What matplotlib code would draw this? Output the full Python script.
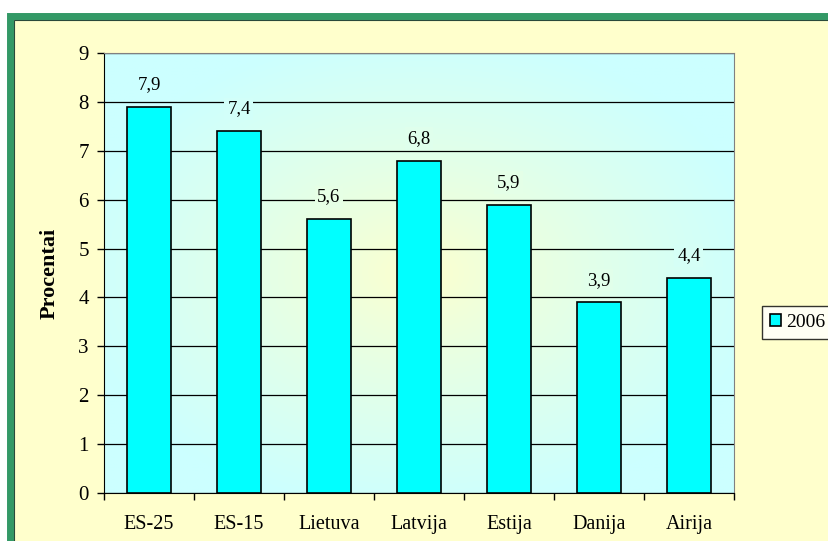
import matplotlib.pyplot as plt
import numpy as np
from matplotlib.patches import Rectangle
from matplotlib.colors import to_rgb

countries = ['ES-25', 'ES-15', 'Lietuva', 'Latvija', 'Estija', 'Danija', 'Airija']
values = [7.9, 7.4, 5.6, 6.8, 5.9, 3.9, 4.4]
labels = ['7,9', '7,4', '5,6', '6,8', '5,9', '3,9', '4,4']
series_name = '2006'

W, H = 829, 541
plt.rcParams['font.family'] = ['Liberation Serif', 'DejaVu Serif']

fig = plt.figure(figsize=(W / 100, H / 100), dpi=100)
fig.patch.set_facecolor('white')

# green frame with pale yellow inside
frame = Rectangle((10.5 / W, -0.1), 1.2, 1 - 15.5 / H + 0.1, transform=fig.transFigure,
                  facecolor='#FFFFCC', edgecolor='#339966', linewidth=5.0, zorder=-2)
fig.patches.append(frame)
inner = Rectangle((14.5 / W, -0.1), 1.2, 1 - 19.5 / H + 0.1, transform=fig.transFigure,
                  facecolor='none', edgecolor='#2a4a3a', linewidth=0.8, zorder=-1)
fig.patches.append(inner)

left, right, top, bottom = 104, 734, 53, 493
ax = fig.add_axes([left / W, 1 - bottom / H, (right - left) / W, (bottom - top) / H])
ax.set_facecolor('none')
ax.set_zorder(2)

c_in = np.array(to_rgb('#FFFFCC'))
c_out = np.array(to_rgb('#CCFFFF'))


def grad(u, v):
    # u, v in -1..1 across the plot area
    t = np.clip(np.sqrt(u ** 2 + v ** 2) / 1.1, 0, 1) ** 0.8
    return c_in * (1 - t[..., None]) + c_out * t[..., None]


# gradient background: yellow centre fading to cyan at the edges
n = 300
xx, yy = np.meshgrid(np.linspace(-1, 1, n), np.linspace(-1, 1, n))
ax.imshow(grad(xx, yy), extent=(-0.5, 6.5, 0, 9), aspect='auto', zorder=0)

x = np.arange(len(countries))
ax.bar(x, values, width=0.48, color='#00FFFF', edgecolor='black', linewidth=1.2,
       zorder=3, label=series_name)
for xi, v, lab in zip(x, values, labels):
    u = np.array([(xi + 0.5) / 7 * 2 - 1])
    w = np.array([(v + 0.45) / 9 * 2 - 1])
    bg = grad(u, w)[0]
    ax.annotate(lab, (xi, v), xytext=(0, 16), textcoords='offset points',
                ha='center', va='center', fontsize=13.5, zorder=4,
                bbox=dict(boxstyle='square,pad=0.15', facecolor=bg, edgecolor='none'))

ax.set_xlim(-0.5, 6.5)
ax.set_ylim(0, 9)
ax.set_yticks(range(10))
ax.yaxis.grid(True, color='black', linewidth=0.9)
for gl in ax.get_ygridlines():
    gl.set_zorder(1)
ax.tick_params(axis='y', direction='out', length=5, width=1, pad=6, labelsize=15)

ax.set_xticks(np.arange(-0.5, 7, 1))
ax.set_xticklabels([])
ax.set_xticks(x, minor=True)
ax.set_xticklabels(countries, minor=True)
ax.tick_params(axis='x', which='major', direction='out', length=5, width=1)
ax.tick_params(axis='x', which='minor', length=0, pad=16, labelsize=14.5)

ax.spines['left'].set_color('black')
ax.spines['bottom'].set_color('black')
ax.spines['top'].set_color('#808080')
ax.spines['right'].set_color('#808080')

ax.set_ylabel('Procentai', fontsize=16, fontweight='bold')
ax.yaxis.set_label_coords(-0.071, 0.5)

leg = ax.legend(loc='upper left', bbox_to_anchor=(762 / W, 1 - 306 / H),
                bbox_transform=fig.transFigure, frameon=True, fancybox=False,
                fontsize=14, handlelength=0.6, handleheight=0.6, handletextpad=0.25,
                borderpad=0.4, borderaxespad=0)
leg.get_frame().set_edgecolor('black')
leg.get_frame().set_linewidth(1)

fig.savefig('out.png', dpi=100)
